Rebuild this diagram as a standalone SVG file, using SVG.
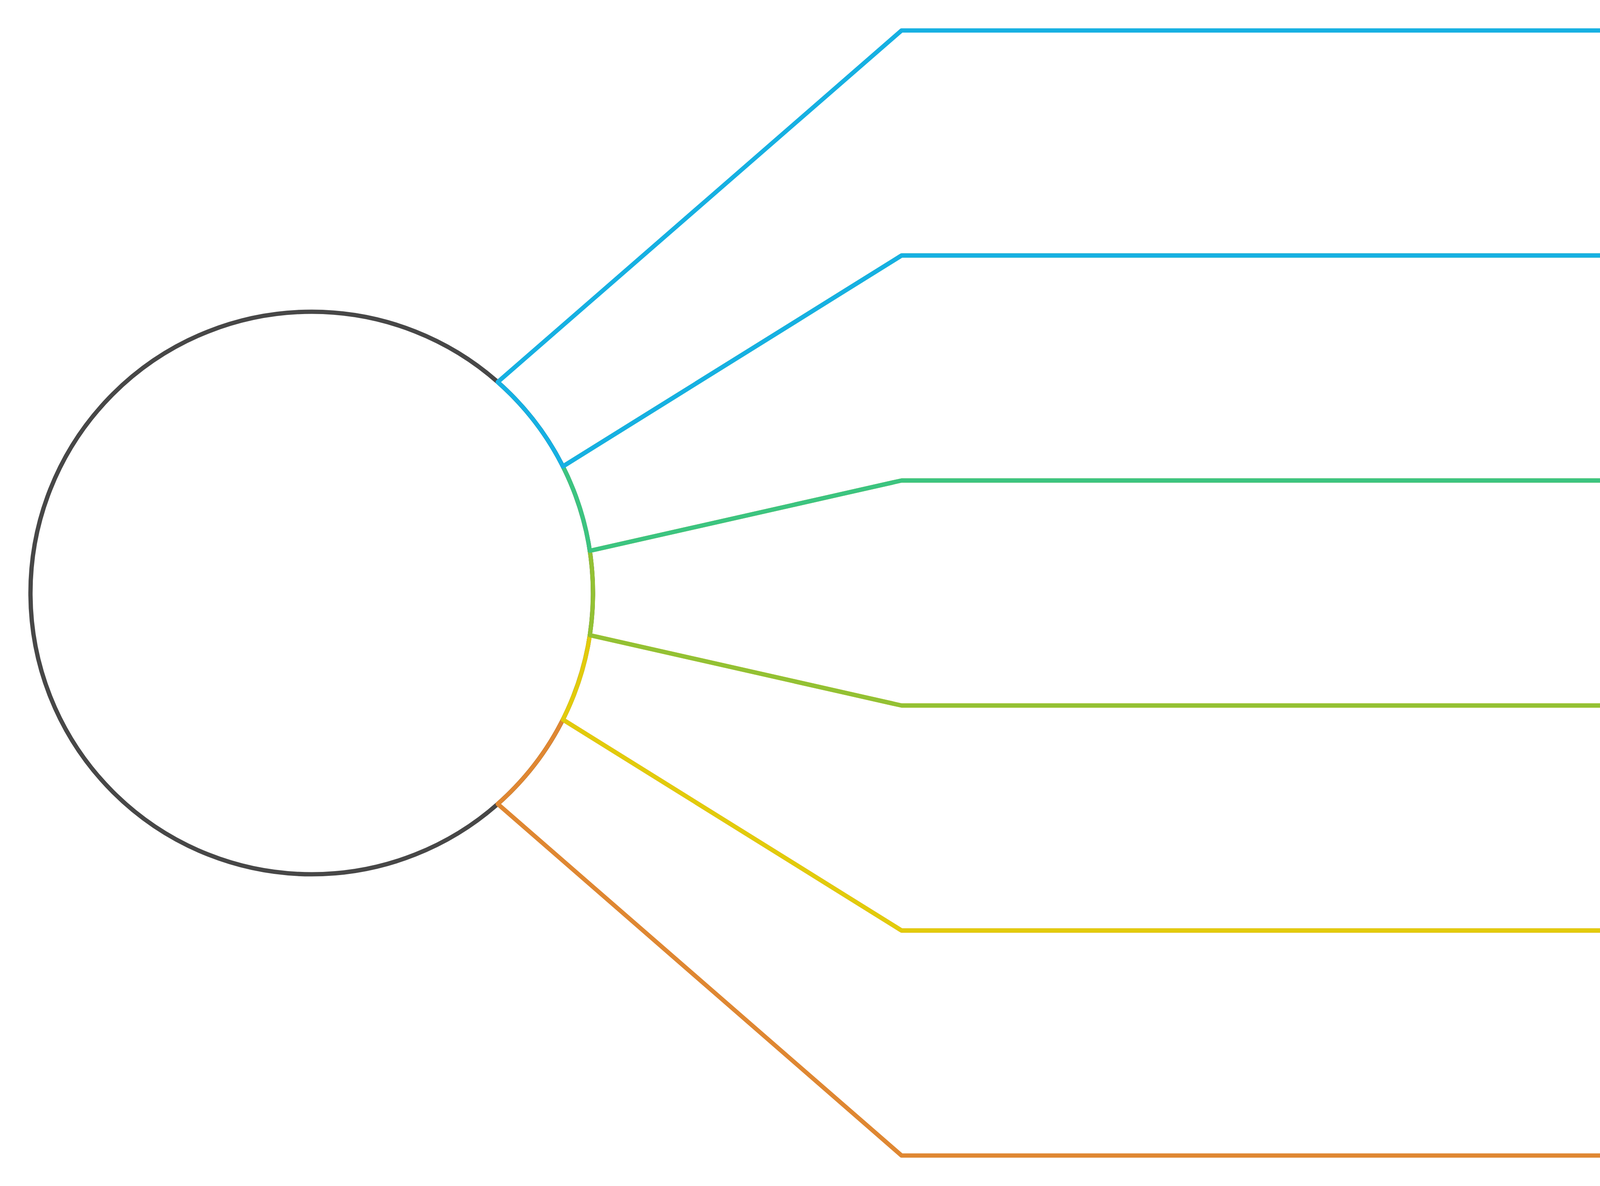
<svg xmlns="http://www.w3.org/2000/svg" width="4908" height="3036" viewBox="0 0 4908 3036">
<style>
.s{fill:none;stroke-width:11;stroke-linejoin:round;stroke-linecap:round}
</style>
<rect x="0" y="0" width="4908" height="3036" fill="#ffffff"/>
<g id="hub">
<circle cx="798" cy="1518" r="720" class="s" stroke="#474747"/>
</g>
<g id="connectors">
<path id="seg5" class="s" stroke="#DF8732" d="M1441.0 1842 A720 720 0 0 1 1274.2 2058 L2308 2958 L4830 2958 L4830 2382 L2308 2382 Z"/>
<path id="seg4" class="s" stroke="#E2CB0B" d="M1509.9 1626 A720 720 0 0 1 1441.0 1842 L2308 2382 L4830 2382 L4830 1806 L2308 1806 Z"/>
<path id="seg3" class="s" stroke="#93C134" d="M1509.9 1410 A720 720 0 0 1 1509.9 1626 L2308 1806 L4830 1806 L4830 1230 L2308 1230 Z"/>
<path id="seg2" class="s" stroke="#3CC480" d="M1441.0 1194 A720 720 0 0 1 1509.9 1410 L2308 1230 L4830 1230 L4830 654 L2308 654 Z"/>
<path id="seg1" class="s" stroke="#16B0E2" d="M1274.2 978 A720 720 0 0 1 1441.0 1194 L2308 654 L4830 654 L4830 78 L2308 78 Z"/>
</g>
</svg>
